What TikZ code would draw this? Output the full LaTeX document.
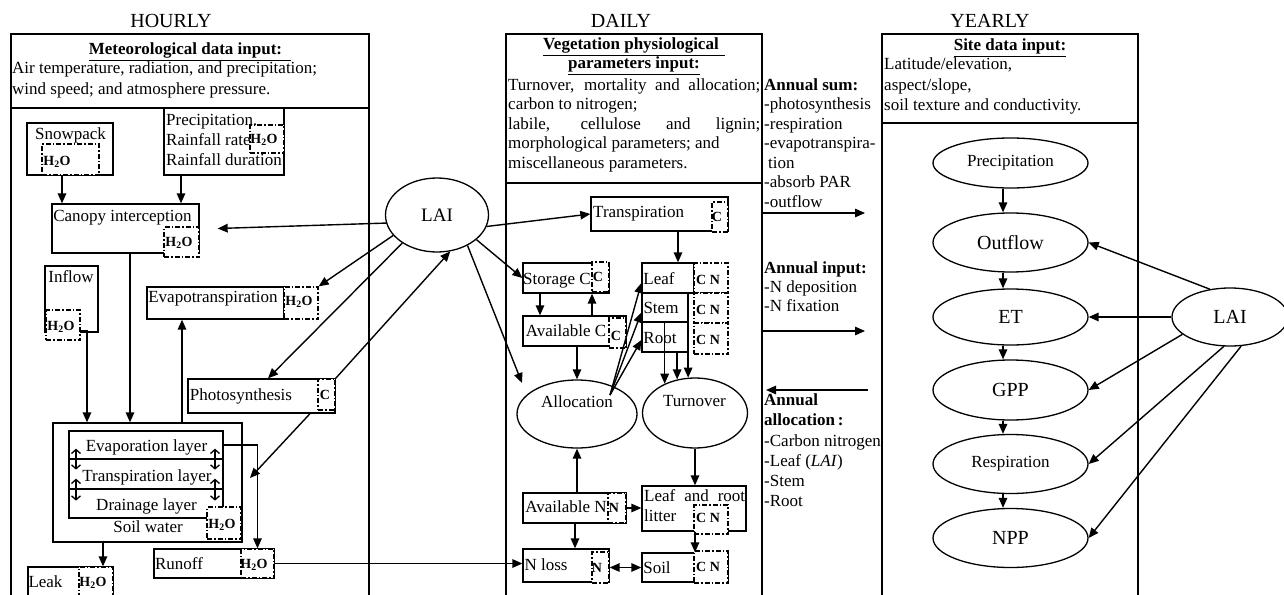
\documentclass[tikz,border=0pt]{standalone}
\usepackage{fontspec}
\setmainfont{Liberation Serif}
\usetikzlibrary{arrows.meta,shapes.geometric,fit}
\tikzset{
  sb/.style={draw, line width=1.3pt, inner sep=0pt},
  db/.style={draw, line width=1.3pt, inner sep=0pt, fill=white, dash pattern=on 5pt off 2pt on 1.5pt off 2pt},
  txt/.style={inner sep=0pt, text height=12pt, text depth=4pt, font=\fontsize{17}{20}\selectfont},
  lt/.style={txt, anchor=west},
  btxt/.style={inner sep=0pt, text height=12pt, text depth=4pt, font=\bfseries\fontsize{17}{20}\selectfont},
  blt/.style={btxt, anchor=west},
  ttl/.style={inner sep=0pt, text height=14pt, text depth=0pt, font=\fontsize{20}{22}\selectfont},
  lab/.style={inner sep=0pt, text height=10pt, text depth=3pt, font=\bfseries\fontsize{14}{16}\selectfont},
  ell/.style={draw, ellipse, line width=1.3pt, inner sep=0pt},
  arr/.style={-{Triangle[length=10pt,width=8.5pt]}, line width=1.4pt},
  dbl/.style={{Straight Barb[length=4pt,width=9pt]}-{Straight Barb[length=4pt,width=9pt]}, line width=1.3pt},
  dblT/.style={{Triangle[length=10pt,width=8.5pt]}-{Triangle[length=10pt,width=8.5pt]}, line width=1.4pt}
}
\newcommand\bx[6][sb]{\node[#1, fit={(#3,#4)(#5,#6)}] (#2) {};}
\newcommand\tx[4][txt]{\node[#1] (#2) at (#3) {#4};}
\newcommand\HHO{H\textsubscript{2}O}
\begin{document}
\begin{tikzpicture}[x=1pt,y=-1pt]
\useasboundingbox (0,0) rectangle (1284,594);
\fill[white] (0,0) rectangle (1284,594);
% panels
\bx{p1}{11}{34}{369}{620}
\bx{p2}{506}{34}{762}{620}
\bx{p3}{882}{34}{1138}{620}
\draw[line width=1.3pt] (p1.west |- 0,108) -- (p1.east |- 0,108);
\draw[line width=1.3pt] (p2.west |- 0,183) -- (p2.east |- 0,183);
\draw[line width=1.3pt] (p3.west |- 0,123) -- (p3.east |- 0,123);
\tx[ttl]{hourly}{171,21}{HOURLY}
\tx[ttl]{daily}{621,21}{DAILY}
\tx[ttl]{yearly}{990,21}{YEARLY}
% ---------- panel 1 boxes
\bx{snow}{27}{123}{113}{175}
\bx{prec}{164}{108}{284}{175}
\bx{canopy}{52}{204}{199}{253}
\bx{inflow}{45}{266}{98}{332}
\bx{evap}{147}{287}{284}{319}
\bx{photo}{188}{379}{335}{413}
\bx{soilw}{53}{423}{242}{542}
\bx{evl}{69}{431}{223}{459}
\bx{trl}{69}{459}{223}{489}
\bx{drl}{69}{489}{223}{518}
\bx{runoff}{154}{549}{274}{578}
\bx{leak}{28}{567}{113}{620}
\bx[db]{snowH}{42}{144}{99}{175}
\bx[db]{precH}{250}{125}{284}{153}
\bx[db]{canopyH}{164}{227}{199}{257}
\bx[db]{inflowH}{46}{310}{80}{340}
\bx[db]{evapH}{284}{287}{318}{319}
\bx[db]{photoC}{318}{379}{335}{410}
\bx[db]{soilwH}{207}{507}{241}{539}
\bx[db]{runoffH}{241}{549}{274}{578}
\bx[db]{leakH}{79}{567}{113}{620}
% ---------- panel 2 boxes
\bx{trans}{591}{197}{728}{231}
\bx{stor}{523}{263}{609}{293}
\bx{avC}{523}{316}{626}{346}
\bx{leaf}{642}{263}{694}{293}
\bx{stem}{642}{293}{688}{322}
\bx{root}{642}{322}{688}{352}
\bx{avN}{523}{493}{626}{523}
\bx{litter}{642}{486}{746}{531}
\bx{nloss}{523}{549}{609}{582}
\bx{soil}{642}{553}{728}{582}
\bx[db]{transC}{712}{202}{728}{232}
\bx[db]{storC}{592}{262}{609}{292}
\bx[db]{avCC}{609}{318}{626}{348}
\bx[db]{leafCN}{694}{263}{728}{293}
\bx[db]{stemCN}{694}{293}{728}{323}
\bx[db]{rootCN}{694}{323}{728}{354}
\bx[db]{avNN}{608}{493}{626}{523}
\bx[db]{litterCN}{694}{505}{728}{534}
\bx[db]{nlossN}{592}{552}{609}{583}
\bx[db]{soilCN}{694}{551}{728}{583}
% ellipses
\node[ell, minimum width=103pt, minimum height=74pt, font=\fontsize{19}{20}\selectfont] (laiA) at (437,215) {LAI};
\node[ell, minimum width=120pt, minimum height=68pt] (alloc) at (577,414) {};
\node[ell, minimum width=105pt, minimum height=70pt] (turn) at (695,413) {};
\node[ell, minimum width=155pt, minimum height=50pt, font=\fontsize{17}{20}\selectfont] (prec2) at (1010.5,163) {Precipitation};
\node[ell, minimum width=155pt, minimum height=59pt, font=\fontsize{20}{22}\selectfont] (outf) at (1010.5,242.5) {Outflow};
\node[ell, minimum width=155pt, minimum height=56pt, font=\fontsize{20}{22}\selectfont] (et) at (1010.5,317) {ET};
\node[ell, minimum width=155pt, minimum height=60pt, font=\fontsize{20}{22}\selectfont] (gpp) at (1010.5,390) {GPP};
\node[ell, minimum width=155pt, minimum height=59pt, font=\fontsize{17}{20}\selectfont] (resp) at (1010.5,464) {Respiration};
\node[ell, minimum width=155pt, minimum height=59pt, font=\fontsize{20}{22}\selectfont] (npp) at (1010.5,538) {NPP};
\node[ell, minimum width=116pt, minimum height=58pt, font=\fontsize{20}{22}\selectfont] (laiB) at (1230,317) {LAI};
% ---------- arrows panel 1
\draw[arr] (snow.south -| 62,0) -- (canopy.north -| 62,0);
\draw[arr] (prec.south -| 181,0) -- (canopy.north -| 181,0);
\draw[arr] (canopy.south -| 130,0) -- (soilw.north -| 130,0);
\draw[arr] ([yshift=-6pt]inflowH.east) -| (soilw.north -| 87,0);
\draw[arr] (soilw.north -| 182,0) -- (evap.south -| 182,0);
\draw[arr] (evl.east) -| (runoffH.north);
\draw[arr] (soilw.south -| 103,0) -- (leak.north -| 103,0);
\coordinate (prTip) at (250,478);
\draw[arr] (photo.south -| 310,0) -- (prTip);
\draw[arr] (runoffH.east) -- (nloss.west |- runoffH.east);
\draw[dbl] ([yshift=11pt]evl.south -| 76,0) -- ([yshift=-10pt]evl.south -| 76,0);
\draw[dbl] ([yshift=11pt]trl.south -| 76,0) -- ([yshift=-11pt]trl.south -| 76,0);
\draw[dbl] ([yshift=11pt]evl.south -| 215,0) -- ([yshift=-10pt]evl.south -| 215,0);
\draw[dbl] ([yshift=11pt]trl.south -| 215,0) -- ([yshift=-11pt]trl.south -| 215,0);
% LAI left
\coordinate (allocTip) at (522,383);
\draw[arr] (laiA.189) -- ([xshift=18pt]canopy.east);
\draw[arr] (laiA.205) -- (evapH.north east);
\draw[arr] (laiA.219) -- (photo.north -| 268,0);
\draw[arr] (photoC.north east) -- (laiA.290);
\draw[arr] (laiA.347) -- (trans.west);
\draw[arr] (laiA.328) -- (stor.west);
\draw[arr] (laiA.315) -- (allocTip);
% ---------- arrows panel 2
\draw[arr] (trans.south -| 678,0) -- (leaf.north -| 678,0);
\draw[arr] (stor.south -| 540,0) -- (avC.north -| 540,0);
\draw[arr] (avC.north -| 592,0) -- (stor.south -| 592,0);
\draw[arr] (avC.south -| alloc.north) -- (alloc.north);
\coordinate (ao) at (610,395);
\draw[arr] (ao) -- ([yshift=-5pt]leaf.west);
\draw[arr] (ao) -- ([yshift=-5pt]stem.west);
\draw[arr] (ao) -- ([yshift=-3pt]root.west);
\draw[arr] (leaf.south -| turn.101.4) -- (turn.101.4);
\draw[arr] (stem.south -| turn.136.3) -- (turn.136.3);
\draw[arr] (root.south -| turn.118.7) -- (turn.118.7);
\draw[arr] (alloc.south |- avN.north) -- (alloc.south);
\draw[arr] (avN.south -| 575,0) -- (nloss.north -| 575,0);
\draw[arr] (avNN.east) -- (litter.west |- avNN.east);
\draw[arr] (turn.south) -- (litter.north -| turn.south);
\draw[arr] (litter.south -| turn.south) -- (soil.north -| turn.south);
\draw[dblT] (nlossN.east) -- (soil.west |- nlossN.east);
% between panels
\coordinate (o1) at (865,213);
\coordinate (o2) at (865,331);
\coordinate (o3) at (868,390);
\coordinate (o3t) at (766,390);
\draw[arr] (p2.east |- o1) -- (o1);
\draw[arr] (p2.east |- o2) -- (o2);
\draw[arr] (o3) -- (o3t);
% panel 3
\draw[arr] (prec2.south -| 1003,0) -- (outf.north -| 1003,0);
\draw[arr] (outf.south -| 1003,0) -- (et.north -| 1003,0);
\draw[arr] (et.south -| 1003,0) -- (gpp.north -| 1003,0);
\draw[arr] (gpp.south -| 1003,0) -- (resp.north -| 1003,0);
\draw[arr] (resp.south -| 1003,0) -- (npp.north -| 1003,0);
\draw[arr] (laiB.126) -- (outf.east);
\draw[arr] (laiB.west) -- (et.east);
\draw[arr] (laiB.200) -- (gpp.east);
\draw[arr] (laiB.258) -- (resp.east);
\draw[arr] (laiB.291) -- (npp.east);
% ---------- texts panel 1
\tx[btxt]{h1}{190,51}{\underline{Meteorological data input:\hspace{9pt}}}
\tx[lt]{h1a}{12,70}{Air temperature, radiation, and precipitation;}
\tx[lt]{h1b}{12,90}{wind speed; and atmosphere pressure.}
\tx{tsnow}{70.5,135}{Snowpack}
\tx[lt]{tprec1}{166,121}{Precipitation.}
\tx[lt]{tprec2}{166,141}{Rainfall rate}
\tx[lt]{tprec3}{166,161}{Rainfall duration}
\tx{tcan}{122.5,217}{Canopy interception}
\tx{tinf}{71,278}{Inflow}
\tx{tevap}{213,298}{Evapotranspiration}
\tx{tphoto}{241,396}{Photosynthesis}
\tx{tevl}{146.5,447}{Evaporation layer}
\tx{ttrl}{147,477}{Transpiration layer}
\tx{tdrl}{146.5,506}{Drainage layer}
\tx{tsw}{148,528}{Soil water}
\tx{trun}{179,565}{Runoff}
\tx{tleak}{45.5,583}{Leak}
\tx[lab]{lsnow}{57,162}{\HHO}
\tx[lab]{lprec}{264,140}{\HHO}
\tx[lab]{lcan}{179,243}{\HHO}
\tx[lab]{linf}{61,327}{\HHO}
\tx[lab]{levap}{299,302}{\HHO}
\tx[lab]{lphoto}{325,396}{C}
\tx[lab]{lsw}{222,525}{\HHO}
\tx[lab]{lrun}{254,565}{\HHO}
\tx[lab]{lleak}{93,583}{\HHO}
% ---------- texts panel 2
\tx[btxt]{h2a}{634,46}{\underline{Vegetation physiological\hspace{6pt}}}
\tx[btxt]{h2b}{634,65}{\underline{parameters input:}}
\tx[lt]{h2c}{508,86}{\makebox[252pt][s]{Turnover, mortality and allocation;}}
\tx[lt]{h2d}{508,105}{carbon to nitrogen;}
\tx[lt]{h2e}{508,125}{\makebox[252pt][s]{labile, cellulose and lignin;}}
\tx[lt]{h2f}{508,144}{morphological parameters; and}
\tx[lt]{h2g}{508,164}{miscellaneous parameters.}
\tx[lt]{ttrans}{593,213}{Transpiration}
\tx{tstor}{557,280}{Storage C}
\tx{tavc}{566,332}{Available C}
\tx{tleaf}{659,280}{Leaf}
\tx{tstem}{661,309}{Stem}
\tx{troot}{660,339}{Root}
\tx{talloc}{577,403}{Allocation}
\tx{tturn}{694.5,402}{Turnover}
\tx{tavn}{566,508}{Available N}
\tx[lt]{tlit1}{644,497}{\makebox[101pt][s]{Leaf and root}}
\tx[lt]{tlit2}{644,517}{litter}
\tx{tnloss}{546,566}{N loss}
\tx{tsoil}{657,569}{Soil}
\tx[lab]{ltrans}{717,218}{C}
\tx[lab]{lstor}{598,278}{C}
\tx[lab]{lavc}{616,337}{C}
\tx[lab]{lleaf}{708,281}{C N}
\tx[lab]{lstem}{708,311}{C N}
\tx[lab]{lroot}{708,341}{C N}
\tx[lab]{lavn}{614,509}{N}
\tx[lab]{llit}{708,519}{C N}
\tx[lab]{lnl}{597,569}{N}
\tx[lab]{lsoil}{708,568}{C N}
% ---------- between panels
\tx[blt]{as0}{764,86}{Annual sum:}
\tx[lt]{as1}{764,105.5}{-photosynthesis}
\tx[lt]{as2}{764,125}{-respiration}
\tx[lt]{as3}{764,144.5}{-evapotranspira-}
\tx[lt]{as4}{768,164}{tion}
\tx[lt]{as5}{764,183.5}{-absorb PAR}
\tx[lt]{as6}{764,203}{-outflow}
\tx[blt]{ai0}{764,269}{Annual input:}
\tx[lt]{ai1}{764,288}{-N deposition}
\tx[lt]{ai2}{764,307}{-N fixation}
\tx[blt]{aa0}{764,401}{Annual}
\tx[blt]{aa1}{764,421}{allocation\,:}
\tx[lt]{aa2}{764,442}{-Carbon nitrogen}
\tx[lt]{aa3}{764,462}{-Leaf (\textit{LAI})}
\tx[lt]{aa4}{764,482}{-Stem}
\tx[lt]{aa5}{764,502}{-Root}
% ---------- panel 3 header
\tx[btxt]{h3a}{1010,47}{\underline{Site data input:}}
\tx[lt]{h3b}{884,66}{Latitude/elevation,}
\tx[lt]{h3c}{884,86}{aspect/slope,}
\tx[lt]{h3d}{884,106}{soil texture and conductivity.}
\end{tikzpicture}
\end{document}
